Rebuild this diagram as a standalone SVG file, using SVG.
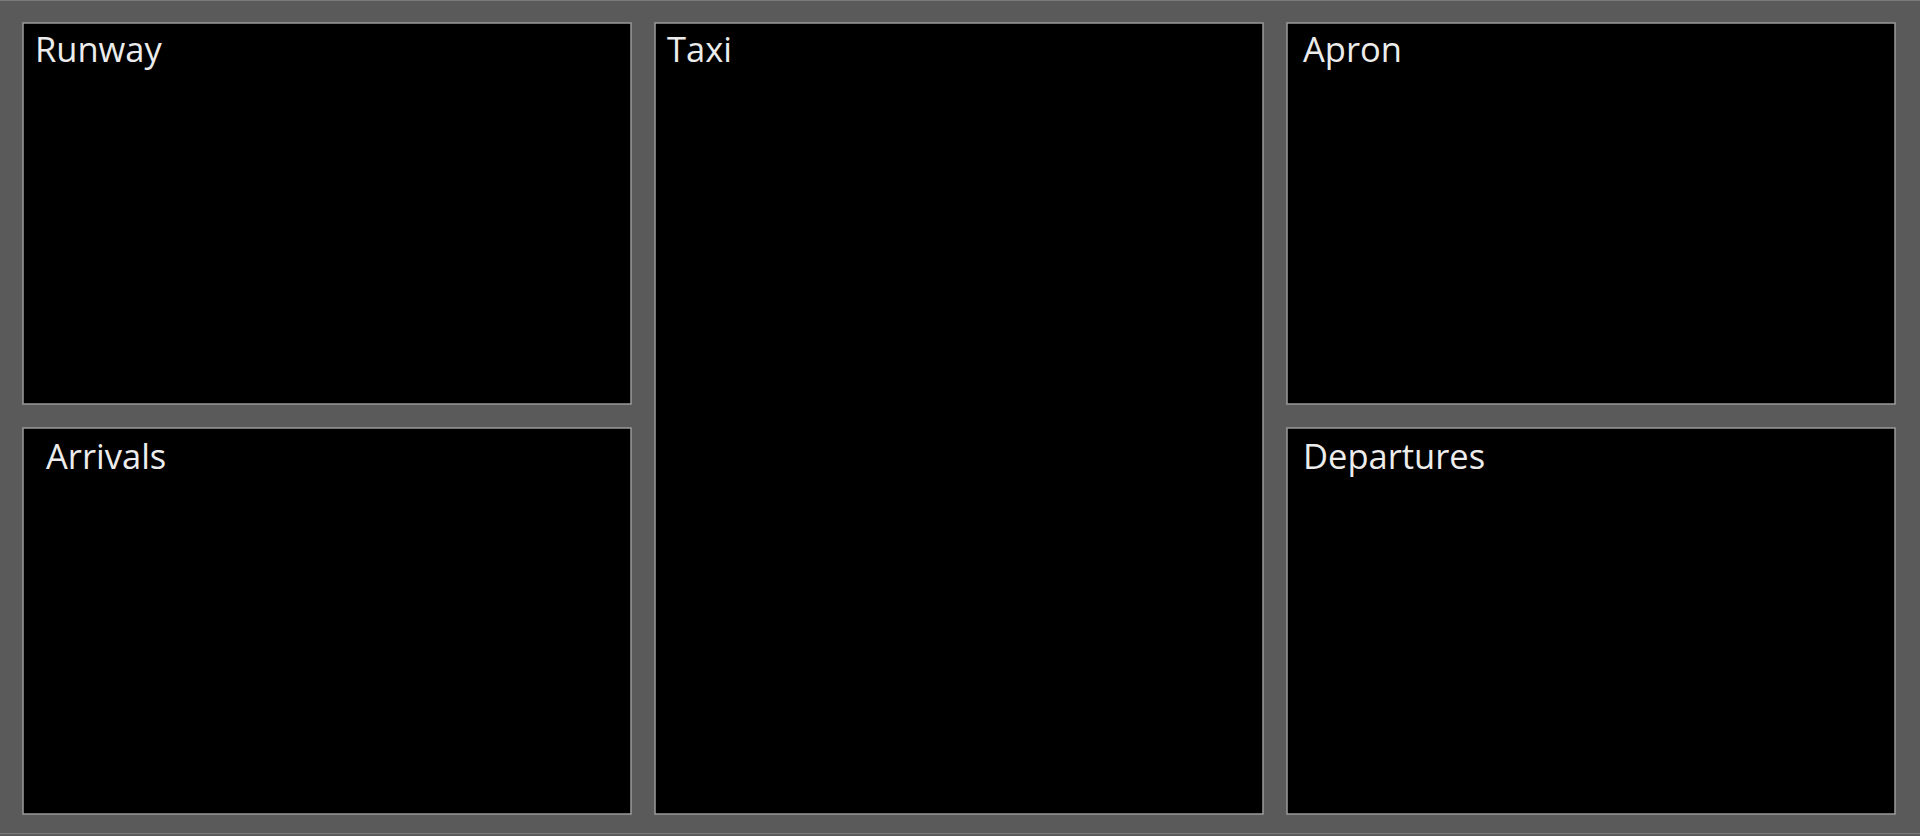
<svg xmlns="http://www.w3.org/2000/svg" width="1920" height="836" viewBox="0 0 1920 836">
<style>
.panel{fill:#000;stroke:#9a9a9a;stroke-width:1.5}
.lbl{font-family:"Open Sans","Noto Sans",sans-serif;font-size:34.5px;fill:#ececec}
.edge{stroke:#7a7a7a;stroke-width:1}
</style>
<rect x="0" y="0" width="1920" height="836" fill="#5a5a5a"/>
<line class="edge" x1="0" y1="0.5" x2="1920" y2="0.5"/>
<line class="edge" x1="0" y1="833.5" x2="1920" y2="833.5"/>
<g id="runway"><rect class="panel" x="23" y="23" width="608" height="381"/><text class="lbl" x="35" y="62">Runway</text></g>
<g id="arrivals"><rect class="panel" x="23" y="428" width="608" height="386"/><text class="lbl" x="46" y="469">Arrivals</text></g>
<g id="taxi"><rect class="panel" x="655" y="23" width="608" height="791"/><text class="lbl" x="667" y="62">Taxi</text></g>
<g id="apron"><rect class="panel" x="1287" y="23" width="608" height="381"/><text class="lbl" x="1303" y="62">Apron</text></g>
<g id="departures"><rect class="panel" x="1287" y="428" width="608" height="386"/><text class="lbl" x="1303" y="469">Departures</text></g>
<g id="connectors"/>
</svg>
